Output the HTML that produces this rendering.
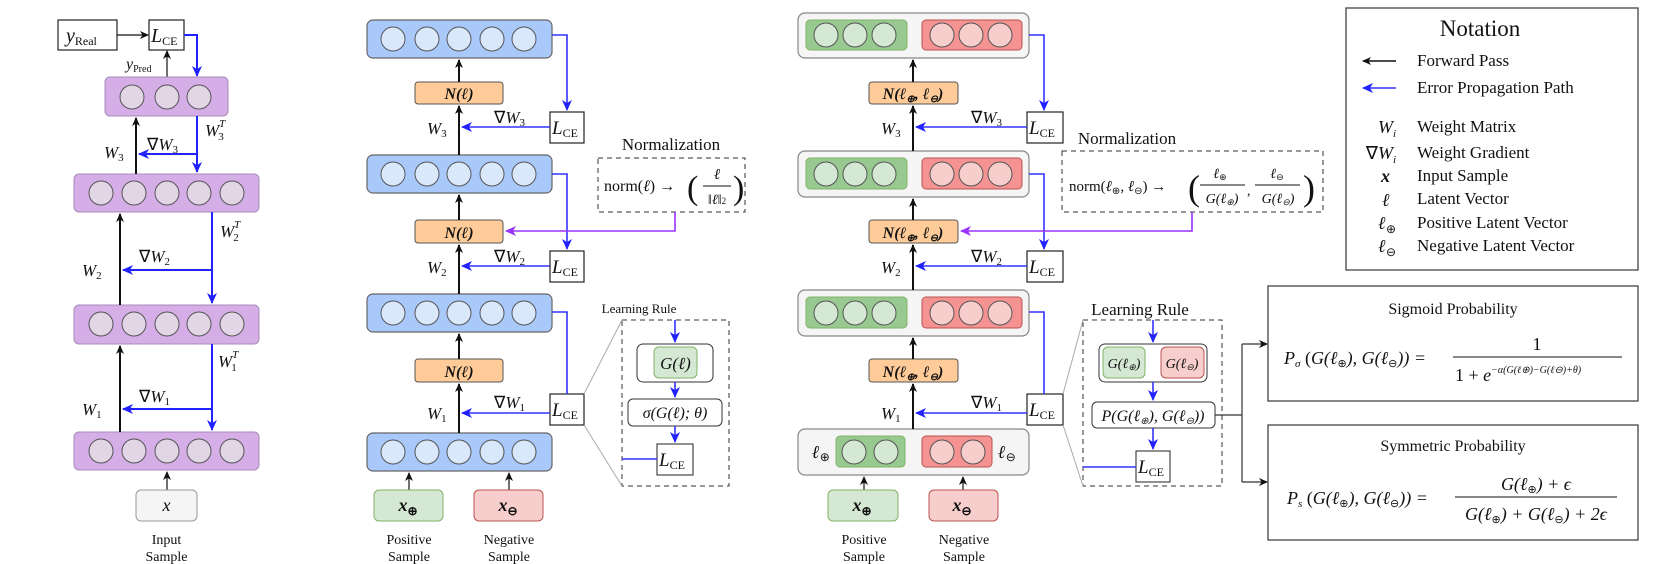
<!DOCTYPE html>
<html><head><meta charset="utf-8"><style>
html,body{margin:0;padding:0;background:#fff;}
svg{display:block;}
text{font-family:"Liberation Serif",serif;fill:#111;}
.m{font-style:italic;}
.b{font-weight:bold;font-style:italic;}
</style></head><body>
<svg width="1661" height="564" viewBox="0 0 1661 564" xmlns="http://www.w3.org/2000/svg">
<defs>
<marker id="ak" markerWidth="10" markerHeight="10" refX="8" refY="5" orient="auto" markerUnits="userSpaceOnUse"><path d="M0,1 L9,5 L0,9 L2.5,5z" fill="#111"/></marker>
<marker id="ab" markerWidth="12" markerHeight="12" refX="10" refY="6" orient="auto" markerUnits="userSpaceOnUse"><path d="M0,1 L11,6 L0,11 L3,6z" fill="#2222ff"/></marker>
<marker id="ap" markerWidth="12" markerHeight="12" refX="10" refY="6" orient="auto" markerUnits="userSpaceOnUse"><path d="M0,1 L11,6 L0,11 L3,6z" fill="#9933ff"/></marker>
</defs>

<!-- ============ PANEL 1 ============ -->
<g>
<rect x="58" y="20" width="59" height="30" fill="#fff" stroke="#222" stroke-width="1.2"/>
<text x="66" y="42" class="m" font-size="20">y<tspan font-size="12" font-style="normal" dy="3">Real</tspan></text>
<rect x="149" y="20" width="35" height="30" fill="#fff" stroke="#222" stroke-width="1.2"/>
<text x="151" y="42" class="m" font-size="20">L<tspan font-size="12" font-style="normal" dy="3">CE</tspan></text>
<line x1="117" y1="35" x2="148" y2="35" stroke="#111" stroke-width="1.2" marker-end="url(#ak)"/>
<line x1="167" y1="77" x2="167" y2="51" stroke="#111" stroke-width="1.2" marker-end="url(#ak)"/>
<text x="126" y="69" class="m" font-size="16">y<tspan font-size="10" font-style="normal" dy="3">Pred</tspan></text>
<polyline points="184,35 197,35 197,76" fill="none" stroke="#2222ff" stroke-width="2" marker-end="url(#ab)"/>

<rect x="105" y="77" width="123" height="39" rx="5" fill="#d5aee8" stroke="#a98bb8"/>
<g fill="#e2d6e6" stroke="#555"><circle cx="132" cy="97" r="12"/><circle cx="167" cy="97" r="12"/><circle cx="199" cy="97" r="12"/></g>

<rect x="74" y="174" width="185" height="38" rx="5" fill="#d5aee8" stroke="#a98bb8"/>
<g fill="#e2d6e6" stroke="#555"><circle cx="101" cy="193" r="12"/><circle cx="134" cy="193" r="12"/><circle cx="167" cy="193" r="12"/><circle cx="199" cy="193" r="12"/><circle cx="232" cy="193" r="12"/></g>
<rect x="74" y="305" width="185" height="39" rx="5" fill="#d5aee8" stroke="#a98bb8"/>
<g fill="#e2d6e6" stroke="#555"><circle cx="101" cy="324" r="12"/><circle cx="134" cy="324" r="12"/><circle cx="167" cy="324" r="12"/><circle cx="199" cy="324" r="12"/><circle cx="232" cy="324" r="12"/></g>
<rect x="74" y="432" width="185" height="38" rx="5" fill="#d5aee8" stroke="#a98bb8"/>
<g fill="#e2d6e6" stroke="#555"><circle cx="101" cy="451" r="12"/><circle cx="134" cy="451" r="12"/><circle cx="167" cy="451" r="12"/><circle cx="199" cy="451" r="12"/><circle cx="232" cy="451" r="12"/></g>

<line x1="136" y1="174" x2="136" y2="118" stroke="#111" stroke-width="2" marker-end="url(#ak)"/>
<line x1="120" y1="305" x2="120" y2="214" stroke="#111" stroke-width="2" marker-end="url(#ak)"/>
<line x1="120" y1="432" x2="120" y2="346" stroke="#111" stroke-width="2" marker-end="url(#ak)"/>
<line x1="197" y1="116" x2="197" y2="172" stroke="#2222ff" stroke-width="2" marker-end="url(#ab)"/>
<line x1="212" y1="212" x2="212" y2="303" stroke="#2222ff" stroke-width="2" marker-end="url(#ab)"/>
<line x1="212" y1="344" x2="212" y2="430" stroke="#2222ff" stroke-width="2" marker-end="url(#ab)"/>
<line x1="197" y1="154" x2="139" y2="154" stroke="#2222ff" stroke-width="2" marker-end="url(#ab)"/>
<line x1="212" y1="270" x2="123" y2="270" stroke="#2222ff" stroke-width="2" marker-end="url(#ab)"/>
<line x1="212" y1="409" x2="123" y2="409" stroke="#2222ff" stroke-width="2" marker-end="url(#ab)"/>
<text x="104" y="158" class="m" font-size="17">W<tspan font-size="11" dy="3" font-style="normal">3</tspan></text>
<text x="147" y="150" font-size="17">∇<tspan class="m">W</tspan><tspan font-size="11" dy="3">3</tspan></text>
<text x="205" y="136" class="m" font-size="17">W<tspan font-size="11" dy="-9">T</tspan><tspan font-size="11" dx="-7" dy="13" font-style="normal">3</tspan></text>
<text x="82" y="276" class="m" font-size="17">W<tspan font-size="11" dy="3" font-style="normal">2</tspan></text>
<text x="139" y="262" font-size="17">∇<tspan class="m">W</tspan><tspan font-size="11" dy="3">2</tspan></text>
<text x="220" y="237" class="m" font-size="17">W<tspan font-size="11" dy="-9">T</tspan><tspan font-size="11" dx="-7" dy="13" font-style="normal">2</tspan></text>
<text x="82" y="415" class="m" font-size="17">W<tspan font-size="11" dy="3" font-style="normal">1</tspan></text>
<text x="139" y="402" font-size="17">∇<tspan class="m">W</tspan><tspan font-size="11" dy="3">1</tspan></text>
<text x="218" y="367" class="m" font-size="17">W<tspan font-size="11" dy="-9">T</tspan><tspan font-size="11" dx="-7" dy="13" font-style="normal">1</tspan></text>

<line x1="167" y1="490" x2="167" y2="472" stroke="#111" stroke-width="1.2" marker-end="url(#ak)"/>
<rect x="136" y="490" width="61" height="31" rx="5" fill="#f5f5f5" stroke="#999"/>
<text x="166.5" y="511" class="m" font-size="18" text-anchor="middle">x</text>
<text x="166.5" y="544" font-size="14" text-anchor="middle">Input</text>
<text x="166.5" y="561" font-size="14" text-anchor="middle">Sample</text>
</g>

<!-- ============ PANEL 2 ============ -->
<g>
<g fill="#a9c9fb" stroke="#666" stroke-width="1.2">
<rect x="367" y="20" width="185" height="38" rx="6"/>
<rect x="367" y="155" width="185" height="38" rx="6"/>
<rect x="367" y="294" width="185" height="38" rx="6"/>
<rect x="367" y="433" width="185" height="38" rx="6"/>
</g>
<g fill="#dae8fc" stroke="#555">
<circle cx="393" cy="39" r="12"/><circle cx="427" cy="39" r="12"/><circle cx="459" cy="39" r="12"/><circle cx="492" cy="39" r="12"/><circle cx="524" cy="39" r="12"/>
<circle cx="393" cy="174" r="12"/><circle cx="427" cy="174" r="12"/><circle cx="459" cy="174" r="12"/><circle cx="492" cy="174" r="12"/><circle cx="524" cy="174" r="12"/>
<circle cx="393" cy="313" r="12"/><circle cx="427" cy="313" r="12"/><circle cx="459" cy="313" r="12"/><circle cx="492" cy="313" r="12"/><circle cx="524" cy="313" r="12"/>
<circle cx="393" cy="452" r="12"/><circle cx="427" cy="452" r="12"/><circle cx="459" cy="452" r="12"/><circle cx="492" cy="452" r="12"/><circle cx="524" cy="452" r="12"/>
</g>
<g fill="#ffcc99" stroke="#555">
<rect x="415" y="82" width="88" height="22" rx="3"/>
<rect x="415" y="220" width="88" height="23" rx="3"/>
<rect x="415" y="359" width="88" height="23" rx="3"/>
</g>
<text x="459" y="99" class="b" font-size="16" text-anchor="middle">N(ℓ)</text>
<text x="459" y="238" class="b" font-size="16" text-anchor="middle">N(ℓ)</text>
<text x="459" y="377" class="b" font-size="16" text-anchor="middle">N(ℓ)</text>
<g stroke="#111" stroke-width="2" marker-end="url(#ak)">
<line x1="459" y1="82" x2="459" y2="60"/><line x1="459" y1="155" x2="459" y2="106"/>
<line x1="459" y1="220" x2="459" y2="195"/><line x1="459" y1="294" x2="459" y2="245"/>
<line x1="459" y1="359" x2="459" y2="334"/><line x1="459" y1="433" x2="459" y2="384"/>
</g>
<g fill="#fff" stroke="#222" stroke-width="1.2">
<rect x="550" y="112" width="34" height="31"/><rect x="550" y="251" width="34" height="31"/><rect x="550" y="394" width="34" height="31"/>
</g>
<text x="552" y="134" class="m" font-size="19">L<tspan font-size="12" font-style="normal" dy="3">CE</tspan></text>
<text x="552" y="273" class="m" font-size="19">L<tspan font-size="12" font-style="normal" dy="3">CE</tspan></text>
<text x="552" y="416" class="m" font-size="19">L<tspan font-size="12" font-style="normal" dy="3">CE</tspan></text>
<polyline points="552,35 567,35 567,110" fill="none" stroke="#3333ff" stroke-width="1.6" marker-end="url(#ab)"/>
<polyline points="552,174 567,174 567,249" fill="none" stroke="#3333ff" stroke-width="1.6" marker-end="url(#ab)"/>
<polyline points="552,312 567,312 567,394" fill="none" stroke="#3333ff" stroke-width="1.6"/>
<g stroke="#3333ff" stroke-width="1.6" marker-end="url(#ab)">
<line x1="550" y1="127" x2="462" y2="127"/><line x1="550" y1="266" x2="462" y2="266"/><line x1="550" y1="413" x2="462" y2="413"/>
</g>
<text x="427" y="134" class="m" font-size="17">W<tspan font-size="11" dy="3" font-style="normal">3</tspan></text>
<text x="494" y="123" font-size="17">∇<tspan class="m">W</tspan><tspan font-size="11" dy="3">3</tspan></text>
<text x="427" y="273" class="m" font-size="17">W<tspan font-size="11" dy="3" font-style="normal">2</tspan></text>
<text x="494" y="262" font-size="17">∇<tspan class="m">W</tspan><tspan font-size="11" dy="3">2</tspan></text>
<text x="427" y="419" class="m" font-size="17">W<tspan font-size="11" dy="3" font-style="normal">1</tspan></text>
<text x="494" y="408" font-size="17">∇<tspan class="m">W</tspan><tspan font-size="11" dy="3">1</tspan></text>

<!-- normalization -->
<text x="671" y="150" font-size="17" text-anchor="middle">Normalization</text>
<rect x="598" y="158" width="147" height="54" fill="none" stroke="#333" stroke-dasharray="5,4"/>
<text x="604" y="191" font-size="16">norm(<tspan class="m">ℓ</tspan>) →</text>
<text x="687" y="199" font-size="34" font-weight="lighter">(</text>
<text x="717" y="179" class="m" font-size="15" text-anchor="middle">ℓ</text>
<line x1="703" y1="186" x2="731" y2="186" stroke="#111"/>
<text x="717" y="204" font-size="14" text-anchor="middle">‖<tspan class="m">ℓ</tspan>‖<tspan font-size="9">2</tspan></text>
<text x="733" y="199" font-size="34" font-weight="lighter">)</text>
<polyline points="675,212 675,231 506,231" fill="none" stroke="#9933ff" stroke-width="1.6" marker-end="url(#ap)"/>

<!-- learning rule -->
<text x="639" y="313" font-size="13" text-anchor="middle">Learning Rule</text>
<rect x="622" y="320" width="107" height="166" fill="none" stroke="#333" stroke-dasharray="5,4"/>
<line x1="584" y1="394" x2="622" y2="320" stroke="#aaa"/>
<line x1="584" y1="425" x2="622" y2="486" stroke="#aaa"/>
<rect x="637" y="344" width="76" height="38" rx="6" fill="#fff" stroke="#333"/>
<rect x="654" y="347" width="43" height="31" rx="5" fill="#d5e8d4" stroke="#82b366"/>
<text x="675.5" y="369" class="m" font-size="17" text-anchor="middle">G(ℓ)</text>
<rect x="628" y="399" width="94" height="27" rx="5" fill="#fff" stroke="#333"/>
<text x="675" y="418" class="m" font-size="16" text-anchor="middle">σ(G(ℓ); θ)</text>
<rect x="657" y="444" width="36" height="31" fill="#fff" stroke="#222"/>
<text x="659" y="466" class="m" font-size="19">L<tspan font-size="12" font-style="normal" dy="3">CE</tspan></text>
<g stroke="#3333ff" stroke-width="1.6" marker-end="url(#ab)">
<line x1="675" y1="320" x2="675" y2="342"/><line x1="675" y1="382" x2="675" y2="397"/><line x1="675" y1="426" x2="675" y2="442"/>
</g>
<line x1="622" y1="459" x2="657" y2="459" stroke="#3333ff" stroke-width="1.6"/>

<line x1="409" y1="490" x2="409" y2="473" stroke="#111" stroke-width="1.2" marker-end="url(#ak)"/>
<line x1="509" y1="490" x2="509" y2="473" stroke="#111" stroke-width="1.2" marker-end="url(#ak)"/>
<rect x="374" y="490" width="69" height="31" rx="5" fill="#d5e8d4" stroke="#82b366"/>
<rect x="474" y="490" width="69" height="31" rx="5" fill="#f8cecc" stroke="#b85450"/>
<text x="408" y="511" class="b" font-size="18" text-anchor="middle">x<tspan font-size="12" font-style="normal" dy="4">⊕</tspan></text>
<text x="508" y="511" class="b" font-size="18" text-anchor="middle">x<tspan font-size="12" font-style="normal" dy="4">⊖</tspan></text>
<text x="409" y="544" font-size="14" text-anchor="middle">Positive</text>
<text x="409" y="561" font-size="14" text-anchor="middle">Sample</text>
<text x="509" y="544" font-size="14" text-anchor="middle">Negative</text>
<text x="509" y="561" font-size="14" text-anchor="middle">Sample</text>
</g>

<!-- ============ PANEL 3 ============ -->
<g>
<g fill="#f5f5f5" stroke="#888" stroke-width="1.2">
<rect x="798" y="13" width="231" height="45" rx="7"/>
<rect x="798" y="151" width="231" height="46" rx="7"/>
<rect x="798" y="290" width="231" height="46" rx="7"/>
<rect x="798" y="429" width="231" height="46" rx="7"/>
</g>
<g fill="#97c991" stroke="#82b366">
<rect x="806" y="20" width="101" height="30" rx="4"/><rect x="806" y="158" width="101" height="31" rx="4"/><rect x="806" y="297" width="101" height="31" rx="4"/><rect x="836" y="436" width="69" height="31" rx="4"/>
</g>
<g fill="#f59292" stroke="#b85450">
<rect x="922" y="20" width="100" height="30" rx="4"/><rect x="922" y="158" width="100" height="31" rx="4"/><rect x="922" y="297" width="100" height="31" rx="4"/><rect x="922" y="436" width="70" height="31" rx="4"/>
</g>
<g fill="#d5e8d4" stroke="#555">
<circle cx="826" cy="35" r="12"/><circle cx="855" cy="35" r="12"/><circle cx="884" cy="35" r="12"/>
<circle cx="826" cy="174" r="12"/><circle cx="855" cy="174" r="12"/><circle cx="884" cy="174" r="12"/>
<circle cx="826" cy="313" r="12"/><circle cx="855" cy="313" r="12"/><circle cx="884" cy="313" r="12"/>
<circle cx="854" cy="452" r="12"/><circle cx="886" cy="452" r="12"/>
</g>
<g fill="#f8cecc" stroke="#555">
<circle cx="942" cy="35" r="12"/><circle cx="971" cy="35" r="12"/><circle cx="1000" cy="35" r="12"/>
<circle cx="942" cy="174" r="12"/><circle cx="971" cy="174" r="12"/><circle cx="1000" cy="174" r="12"/>
<circle cx="942" cy="313" r="12"/><circle cx="971" cy="313" r="12"/><circle cx="1000" cy="313" r="12"/>
<circle cx="942" cy="452" r="12"/><circle cx="973" cy="452" r="12"/>
</g>
<text x="812" y="458" class="b" font-size="18">ℓ<tspan font-size="12" font-style="normal" font-weight="normal" dy="3">⊕</tspan></text>
<text x="998" y="458" class="b" font-size="18">ℓ<tspan font-size="12" font-style="normal" font-weight="normal" dy="3">⊖</tspan></text>
<g fill="#ffcc99" stroke="#555">
<rect x="869" y="82" width="89" height="22" rx="3"/><rect x="869" y="220" width="89" height="23" rx="3"/><rect x="869" y="359" width="89" height="23" rx="3"/>
</g>
<text x="913" y="99" class="b" font-size="16" text-anchor="middle">N(ℓ<tspan font-size="10" dy="3">⊕</tspan><tspan dy="-3">, ℓ</tspan><tspan font-size="10" dy="3">⊖</tspan><tspan dy="-3">)</tspan></text>
<text x="913" y="238" class="b" font-size="16" text-anchor="middle">N(ℓ<tspan font-size="10" dy="3">⊕</tspan><tspan dy="-3">, ℓ</tspan><tspan font-size="10" dy="3">⊖</tspan><tspan dy="-3">)</tspan></text>
<text x="913" y="377" class="b" font-size="16" text-anchor="middle">N(ℓ<tspan font-size="10" dy="3">⊕</tspan><tspan dy="-3">, ℓ</tspan><tspan font-size="10" dy="3">⊖</tspan><tspan dy="-3">)</tspan></text>
<g stroke="#111" stroke-width="2" marker-end="url(#ak)">
<line x1="913" y1="82" x2="913" y2="60"/><line x1="913" y1="151" x2="913" y2="106"/>
<line x1="913" y1="220" x2="913" y2="199"/><line x1="913" y1="290" x2="913" y2="245"/>
<line x1="913" y1="359" x2="913" y2="338"/><line x1="913" y1="429" x2="913" y2="384"/>
</g>
<g fill="#fff" stroke="#222" stroke-width="1.2">
<rect x="1027" y="112" width="36" height="31"/><rect x="1027" y="251" width="36" height="31"/><rect x="1027" y="394" width="36" height="31"/>
</g>
<text x="1029" y="134" class="m" font-size="19">L<tspan font-size="12" font-style="normal" dy="3">CE</tspan></text>
<text x="1029" y="273" class="m" font-size="19">L<tspan font-size="12" font-style="normal" dy="3">CE</tspan></text>
<text x="1029" y="416" class="m" font-size="19">L<tspan font-size="12" font-style="normal" dy="3">CE</tspan></text>
<polyline points="1029,35 1044,35 1044,110" fill="none" stroke="#3333ff" stroke-width="1.6" marker-end="url(#ab)"/>
<polyline points="1029,174 1044,174 1044,249" fill="none" stroke="#3333ff" stroke-width="1.6" marker-end="url(#ab)"/>
<polyline points="1029,312 1044,312 1044,394" fill="none" stroke="#3333ff" stroke-width="1.6"/>
<g stroke="#3333ff" stroke-width="1.6" marker-end="url(#ab)">
<line x1="1027" y1="127" x2="916" y2="127"/><line x1="1027" y1="266" x2="916" y2="266"/><line x1="1027" y1="413" x2="916" y2="413"/>
</g>
<text x="881" y="134" class="m" font-size="17">W<tspan font-size="11" dy="3" font-style="normal">3</tspan></text>
<text x="971" y="123" font-size="17">∇<tspan class="m">W</tspan><tspan font-size="11" dy="3">3</tspan></text>
<text x="881" y="273" class="m" font-size="17">W<tspan font-size="11" dy="3" font-style="normal">2</tspan></text>
<text x="971" y="262" font-size="17">∇<tspan class="m">W</tspan><tspan font-size="11" dy="3">2</tspan></text>
<text x="881" y="419" class="m" font-size="17">W<tspan font-size="11" dy="3" font-style="normal">1</tspan></text>
<text x="971" y="408" font-size="17">∇<tspan class="m">W</tspan><tspan font-size="11" dy="3">1</tspan></text>

<!-- normalization -->
<text x="1127" y="144" font-size="17" text-anchor="middle">Normalization</text>
<rect x="1062" y="151" width="261" height="61" fill="none" stroke="#333" stroke-dasharray="5,4"/>
<text x="1069" y="191" font-size="15">norm(<tspan class="m">ℓ</tspan><tspan font-size="10" dy="3">⊕</tspan><tspan dy="-3">, </tspan><tspan class="m">ℓ</tspan><tspan font-size="10" dy="3">⊖</tspan><tspan dy="-3">) →</tspan></text>
<text x="1188" y="200" font-size="36" font-weight="lighter">(</text>
<text x="1220" y="178" class="m" font-size="14" text-anchor="middle">ℓ<tspan font-size="9" font-style="normal" dy="2">⊕</tspan></text>
<line x1="1200" y1="185" x2="1245" y2="185" stroke="#111"/>
<text x="1222" y="203" class="m" font-size="14" text-anchor="middle">G(ℓ<tspan font-size="9" dy="2">⊕</tspan><tspan dy="-2">)</tspan></text>
<text x="1247" y="195" font-size="14">,</text>
<text x="1277" y="178" class="m" font-size="14" text-anchor="middle">ℓ<tspan font-size="9" font-style="normal" dy="2">⊖</tspan></text>
<line x1="1255" y1="185" x2="1300" y2="185" stroke="#111"/>
<text x="1278" y="203" class="m" font-size="14" text-anchor="middle">G(ℓ<tspan font-size="9" dy="2">⊖</tspan><tspan dy="-2">)</tspan></text>
<text x="1303" y="200" font-size="36" font-weight="lighter">)</text>
<polyline points="1192,212 1192,231 961,231" fill="none" stroke="#9933ff" stroke-width="1.6" marker-end="url(#ap)"/>

<!-- learning rule -->
<text x="1140" y="315" font-size="17" text-anchor="middle">Learning Rule</text>
<rect x="1083" y="320" width="139" height="166" fill="none" stroke="#333" stroke-dasharray="5,4"/>
<line x1="1063" y1="394" x2="1083" y2="320" stroke="#aaa"/>
<line x1="1063" y1="425" x2="1083" y2="486" stroke="#aaa"/>
<rect x="1099" y="344" width="108" height="38" rx="6" fill="#fff" stroke="#333"/>
<rect x="1103" y="347" width="42" height="31" rx="5" fill="#d5e8d4" stroke="#82b366"/>
<rect x="1161" y="347" width="43" height="31" rx="5" fill="#f8cecc" stroke="#b85450"/>
<text x="1124" y="368" class="m" font-size="14" text-anchor="middle">G(ℓ<tspan font-size="9" dy="2">⊕</tspan><tspan dy="-2">)</tspan></text>
<text x="1182" y="368" class="m" font-size="14" text-anchor="middle">G(ℓ<tspan font-size="9" dy="2">⊖</tspan><tspan dy="-2">)</tspan></text>
<rect x="1092" y="402" width="123" height="26" rx="5" fill="#fff" stroke="#333"/>
<text x="1153" y="421" class="m" font-size="16" text-anchor="middle">P(G(ℓ<tspan font-size="10" dy="3">⊕</tspan><tspan dy="-3">), G(ℓ</tspan><tspan font-size="10" dy="3">⊖</tspan><tspan dy="-3">))</tspan></text>
<rect x="1136" y="451" width="34" height="31" fill="#fff" stroke="#222"/>
<text x="1138" y="473" class="m" font-size="19">L<tspan font-size="12" font-style="normal" dy="3">CE</tspan></text>
<g stroke="#3333ff" stroke-width="1.6" marker-end="url(#ab)">
<line x1="1153" y1="320" x2="1153" y2="342"/><line x1="1153" y1="382" x2="1153" y2="400"/><line x1="1153" y1="428" x2="1153" y2="449"/>
</g>
<line x1="1083" y1="467" x2="1136" y2="467" stroke="#3333ff" stroke-width="1.6"/>

<polyline points="1215,415 1242,415" fill="none" stroke="#333" stroke-width="1.2"/>
<polyline points="1242,344 1242,482" fill="none" stroke="#333" stroke-width="1.2"/>
<line x1="1242" y1="344" x2="1267" y2="344" stroke="#333" stroke-width="1.2" marker-end="url(#ak)"/>
<line x1="1242" y1="482" x2="1267" y2="482" stroke="#333" stroke-width="1.2" marker-end="url(#ak)"/>

<line x1="864" y1="490" x2="864" y2="477" stroke="#111" stroke-width="1.2" marker-end="url(#ak)"/>
<line x1="963" y1="490" x2="963" y2="477" stroke="#111" stroke-width="1.2" marker-end="url(#ak)"/>
<rect x="828" y="490" width="70" height="31" rx="5" fill="#d5e8d4" stroke="#82b366"/>
<rect x="929" y="490" width="69" height="31" rx="5" fill="#f8cecc" stroke="#b85450"/>
<text x="862" y="511" class="b" font-size="18" text-anchor="middle">x<tspan font-size="12" font-style="normal" dy="4">⊕</tspan></text>
<text x="962" y="511" class="b" font-size="18" text-anchor="middle">x<tspan font-size="12" font-style="normal" dy="4">⊖</tspan></text>
<text x="864" y="544" font-size="14" text-anchor="middle">Positive</text>
<text x="864" y="561" font-size="14" text-anchor="middle">Sample</text>
<text x="964" y="544" font-size="14" text-anchor="middle">Negative</text>
<text x="964" y="561" font-size="14" text-anchor="middle">Sample</text>
</g>

<!-- ============ NOTATION ============ -->
<g>
<rect x="1346" y="8" width="292" height="262" fill="#fff" stroke="#444" stroke-width="1.3"/>
<text x="1480" y="36" font-size="23" text-anchor="middle">Notation</text>
<line x1="1396" y1="61" x2="1363" y2="61" stroke="#111" stroke-width="1.6" marker-end="url(#ak)"/>
<line x1="1396" y1="88" x2="1363" y2="88" stroke="#3333ff" stroke-width="1.6" marker-end="url(#ab)"/>
<g font-size="17">
<text x="1417" y="66">Forward Pass</text>
<text x="1417" y="93">Error Propagation Path</text>
<text x="1417" y="132">Weight Matrix</text>
<text x="1417" y="158">Weight Gradient</text>
<text x="1417" y="181">Input Sample</text>
<text x="1417" y="204">Latent Vector</text>
<text x="1417" y="228">Positive Latent Vector</text>
<text x="1417" y="251">Negative Latent Vector</text>
</g>
<text x="1396" y="133" class="m" font-size="18" text-anchor="end">W<tspan font-size="11" dy="4">i</tspan></text>
<text x="1396" y="159" font-size="18" text-anchor="end">∇<tspan class="m">W</tspan><tspan class="m" font-size="11" dy="4">i</tspan></text>
<text x="1390" y="182" class="b" font-size="18" text-anchor="end">x</text>
<text x="1390" y="206" class="b" font-size="18" text-anchor="end">ℓ</text>
<text x="1396" y="229" class="b" font-size="18" text-anchor="end">ℓ<tspan font-size="12" font-weight="normal" font-style="normal" dy="4">⊕</tspan></text>
<text x="1396" y="252" class="b" font-size="18" text-anchor="end">ℓ<tspan font-size="12" font-weight="normal" font-style="normal" dy="4">⊖</tspan></text>
</g>

<!-- ============ PROBABILITY BOXES ============ -->
<g>
<rect x="1268" y="286" width="370" height="115" fill="#fff" stroke="#444" stroke-width="1.3"/>
<text x="1453" y="314" font-size="16" text-anchor="middle">Sigmoid Probability</text>
<text x="1284" y="364" class="m" font-size="18">P<tspan font-size="11" dy="3">σ</tspan><tspan dy="-3" font-style="normal"> (</tspan>G(ℓ<tspan font-size="11" dy="3" font-style="normal">⊕</tspan><tspan dy="-3">), G(ℓ</tspan><tspan font-size="11" dy="3" font-style="normal">⊖</tspan><tspan dy="-3">)) =</tspan></text>
<text x="1537" y="350" font-size="18" text-anchor="middle">1</text>
<line x1="1453" y1="357" x2="1622" y2="357" stroke="#111" stroke-width="1"/>
<text x="1455" y="381" font-size="18">1 + <tspan class="m">e</tspan><tspan class="m" font-size="10" dy="-8">−α(G(ℓ⊕)−G(ℓ⊖)+θ)</tspan></text>

<rect x="1268" y="425" width="370" height="115" fill="#fff" stroke="#444" stroke-width="1.3"/>
<text x="1453" y="451" font-size="16" text-anchor="middle">Symmetric Probability</text>
<text x="1287" y="504" class="m" font-size="18">P<tspan font-size="11" dy="3">s</tspan><tspan dy="-3" font-style="normal"> (</tspan>G(ℓ<tspan font-size="11" dy="3" font-style="normal">⊕</tspan><tspan dy="-3">), G(ℓ</tspan><tspan font-size="11" dy="3" font-style="normal">⊖</tspan><tspan dy="-3">)) =</tspan></text>
<text x="1536" y="490" class="m" font-size="18" text-anchor="middle">G(ℓ<tspan font-size="11" dy="3" font-style="normal">⊕</tspan><tspan dy="-3">) + ϵ</tspan></text>
<line x1="1455" y1="497" x2="1617" y2="497" stroke="#111" stroke-width="1"/>
<text x="1536" y="520" class="m" font-size="18" text-anchor="middle">G(ℓ<tspan font-size="11" dy="3" font-style="normal">⊕</tspan><tspan dy="-3">) + G(ℓ</tspan><tspan font-size="11" dy="3" font-style="normal">⊖</tspan><tspan dy="-3">) + 2ϵ</tspan></text>
</g>
</svg>
</body></html>
